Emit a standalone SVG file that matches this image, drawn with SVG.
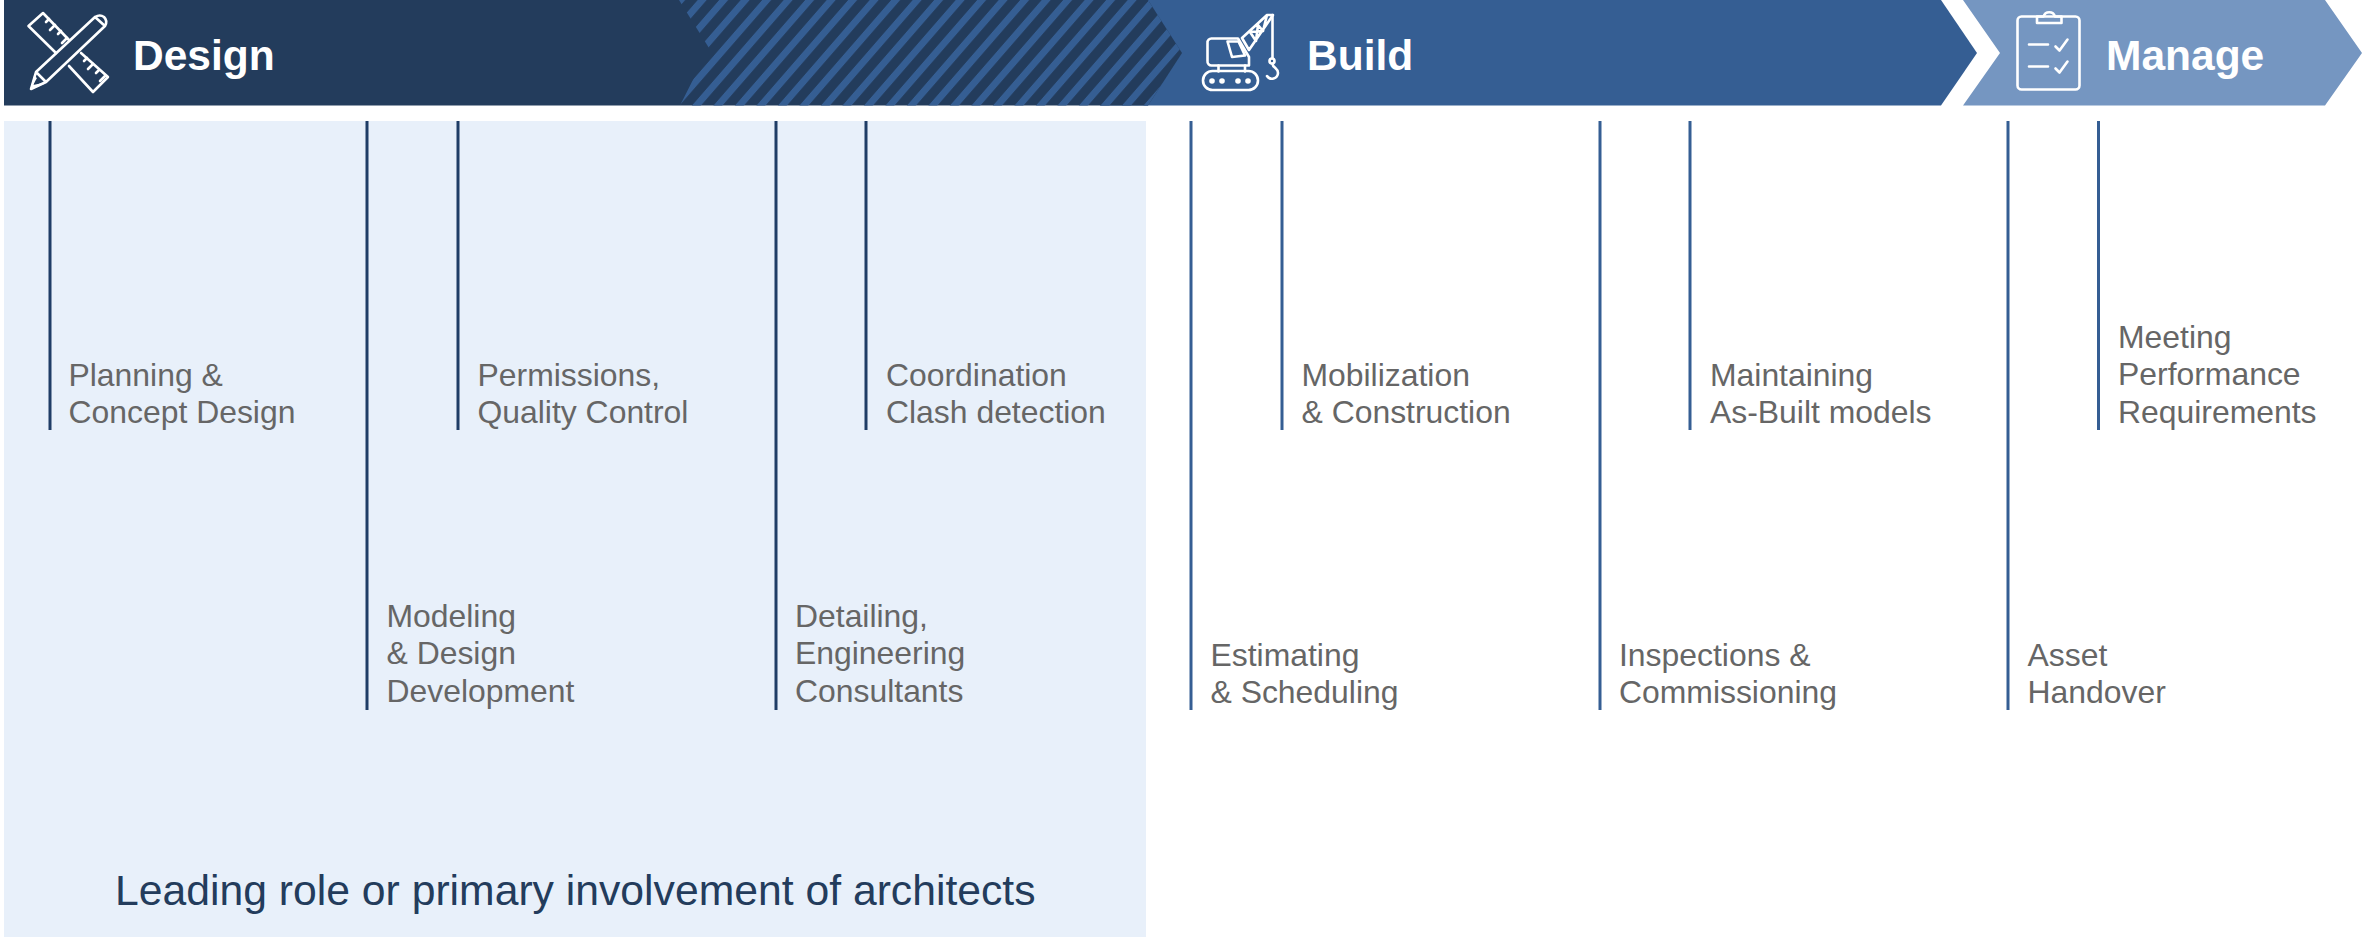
<svg xmlns="http://www.w3.org/2000/svg" width="2364" height="937" viewBox="0 0 2364 937">
<style>
text{font-family:"Liberation Sans",Arial,sans-serif}
.h{font-weight:700;font-size:42.500px;fill:#fff}
.t{font-size:31.900px;fill:#666}
.ld{stroke:#1f3d66;stroke-width:3;fill:none}
.lb{stroke:#355e93;stroke-width:3;fill:none}
.i{fill:none;stroke:#fff;stroke-width:2.6;stroke-linejoin:round;stroke-linecap:round}
.f{fill:#fff}
</style>
<defs>
<pattern id="hatch" patternUnits="userSpaceOnUse" width="21.500" height="21" patternTransform="skewX(-41)">
<rect x="9.700" y="0" width="9" height="21" fill="#355e93"/>
</pattern>
</defs>
<rect width="2364" height="937" fill="#fff"/>
<rect id="architects-panel" x="4" y="121" width="1142" height="816" fill="#e8f0fa"/>
<g id="manage">
<polygon points="1963,0 2325,0 2362,53 2325,105.500 1963,105.500 2000,53" fill="#7596c1"/>
<g class="i">
<rect x="2017.500" y="16.500" width="62" height="73" rx="4"/>
<path d="M2037,16.500V23H2061.500V16.500H2055A6,6 0 0 0 2043.500,16.500Z"/>
<path d="M2029,44.500H2048M2029,66.500H2048"/>
<path d="M2055.500,46.500L2059.500,50.500L2067.500,39.500M2055.500,68.500L2059.500,72.500L2067.500,61.500"/>
</g>
<text class="h" x="2106" y="70">Manage</text>
</g>
<g id="build">
<polygon points="1100,0 1941,0 1977,53 1941,105.500 1100,105.500" fill="#355e93"/>
<g class="i">
<path d="M1212,38.500H1238L1249,57V65.500H1212A4,4 0 0 1 1207.500,61V43A4,4 0 0 1 1212,38.500Z"/>
<path d="M1227.500,41.500H1238.500L1245,55.500L1232,57Z"/>
<path d="M1218.500,65.500V71.500M1245,65.500V71.500"/>
<rect x="1203" y="71" width="55" height="19" rx="9.500"/>
<path d="M1242,38L1267,15H1273L1249,50M1242,38L1249,50M1250,32L1256,41M1258,25L1263,31M1250,32L1263,31M1256,41L1258,25M1267,15L1263,31"/>
<path d="M1272.500,15V58"/>
<circle cx="1272" cy="61" r="2.500"/>
<path d="M1272.500,64C1273,68 1278,68 1278,73A6,6 0 0 1 1267,76"/>
</g>
<circle class="f" cx="1212" cy="81" r="2.800"/><circle class="f" cx="1222" cy="81" r="2.800"/><circle class="f" cx="1238" cy="81" r="2.800"/><circle class="f" cx="1248" cy="81" r="2.800"/>
<text class="h" x="1307" y="70">Build</text>
</g>
<g id="design">
<polygon points="4,0 1148,0 1182,53 1148,105.500 4,105.500" fill="#233c5c"/>
<polygon points="679,0 709,48 680,105.500 1148,105.500 1182,53 1148,0" fill="url(#hatch)"/>
<g class="i">
<path d="M56,53L28.500,26L43,13L69,40"/>
<path d="M81,53L108,77L93,92L69,66"/>
<path d="M49,19L46,22M55,25L50,30M61,31L58,34M67,38L62,43M87,58L84,61M93,64L88,69M99,70L96,73M105,76L100,81"/>
<path d="M36,72L95,17Q100,14 104,17Q108,21 105,26L46,82L31,89L36,72L46,82M95,17L105,26"/>
</g>
<path class="f" d="M30,90L34,76L37,78L33,85L43,83L44,84Z"/>
<text class="h" x="133" y="70">Design</text>
</g>
<g id="leaders">
<g id="planning"><path class="ld" d="M50,121V430"/><text class="t" x="68.500" y="386">Planning &amp;</text><text class="t" x="68.500" y="423">Concept Design</text></g>
<g id="modeling"><path class="ld" d="M367,121V710"/><text class="t" x="386.500" y="627">Modeling</text><text class="t" x="386.500" y="664">&amp; Design</text><text class="t" x="386.500" y="701.500">Development</text></g>
<g id="permissions"><path class="ld" d="M458,121V430"/><text class="t" x="477.500" y="386">Permissions,</text><text class="t" x="477.500" y="423">Quality Control</text></g>
<g id="detailing"><path class="ld" d="M776,121V710"/><text class="t" x="795" y="627">Detailing,</text><text class="t" x="795" y="664">Engineering</text><text class="t" x="795" y="701.500">Consultants</text></g>
<g id="coordination"><path class="ld" d="M866,121V430"/><text class="t" x="886" y="386">Coordination</text><text class="t" x="886" y="423">Clash detection</text></g>
<g id="estimating"><path class="lb" d="M1191,121V710"/><text class="t" x="1210.500" y="666">Estimating</text><text class="t" x="1210.500" y="703">&amp; Scheduling</text></g>
<g id="mobilization"><path class="lb" d="M1282,121V430"/><text class="t" x="1301.500" y="386">Mobilization</text><text class="t" x="1301.500" y="423">&amp; Construction</text></g>
<g id="inspections"><path class="lb" d="M1600,121V710"/><text class="t" x="1619" y="666">Inspections &amp;</text><text class="t" x="1619" y="703">Commissioning</text></g>
<g id="maintaining"><path class="lb" d="M1690,121V430"/><text class="t" x="1710" y="386">Maintaining</text><text class="t" x="1710" y="423">As-Built models</text></g>
<g id="asset"><path class="lb" d="M2008,121V710"/><text class="t" x="2027.500" y="666">Asset</text><text class="t" x="2027.500" y="703">Handover</text></g>
<g id="meeting"><path class="lb" d="M2098.500,121V430"/><text class="t" x="2118" y="348">Meeting</text><text class="t" x="2118" y="385">Performance</text><text class="t" x="2118" y="423">Requirements</text></g>
</g>
<text id="caption" x="115" y="905" font-size="42.700" fill="#233c5c">Leading role or primary involvement of architects</text>
</svg>
